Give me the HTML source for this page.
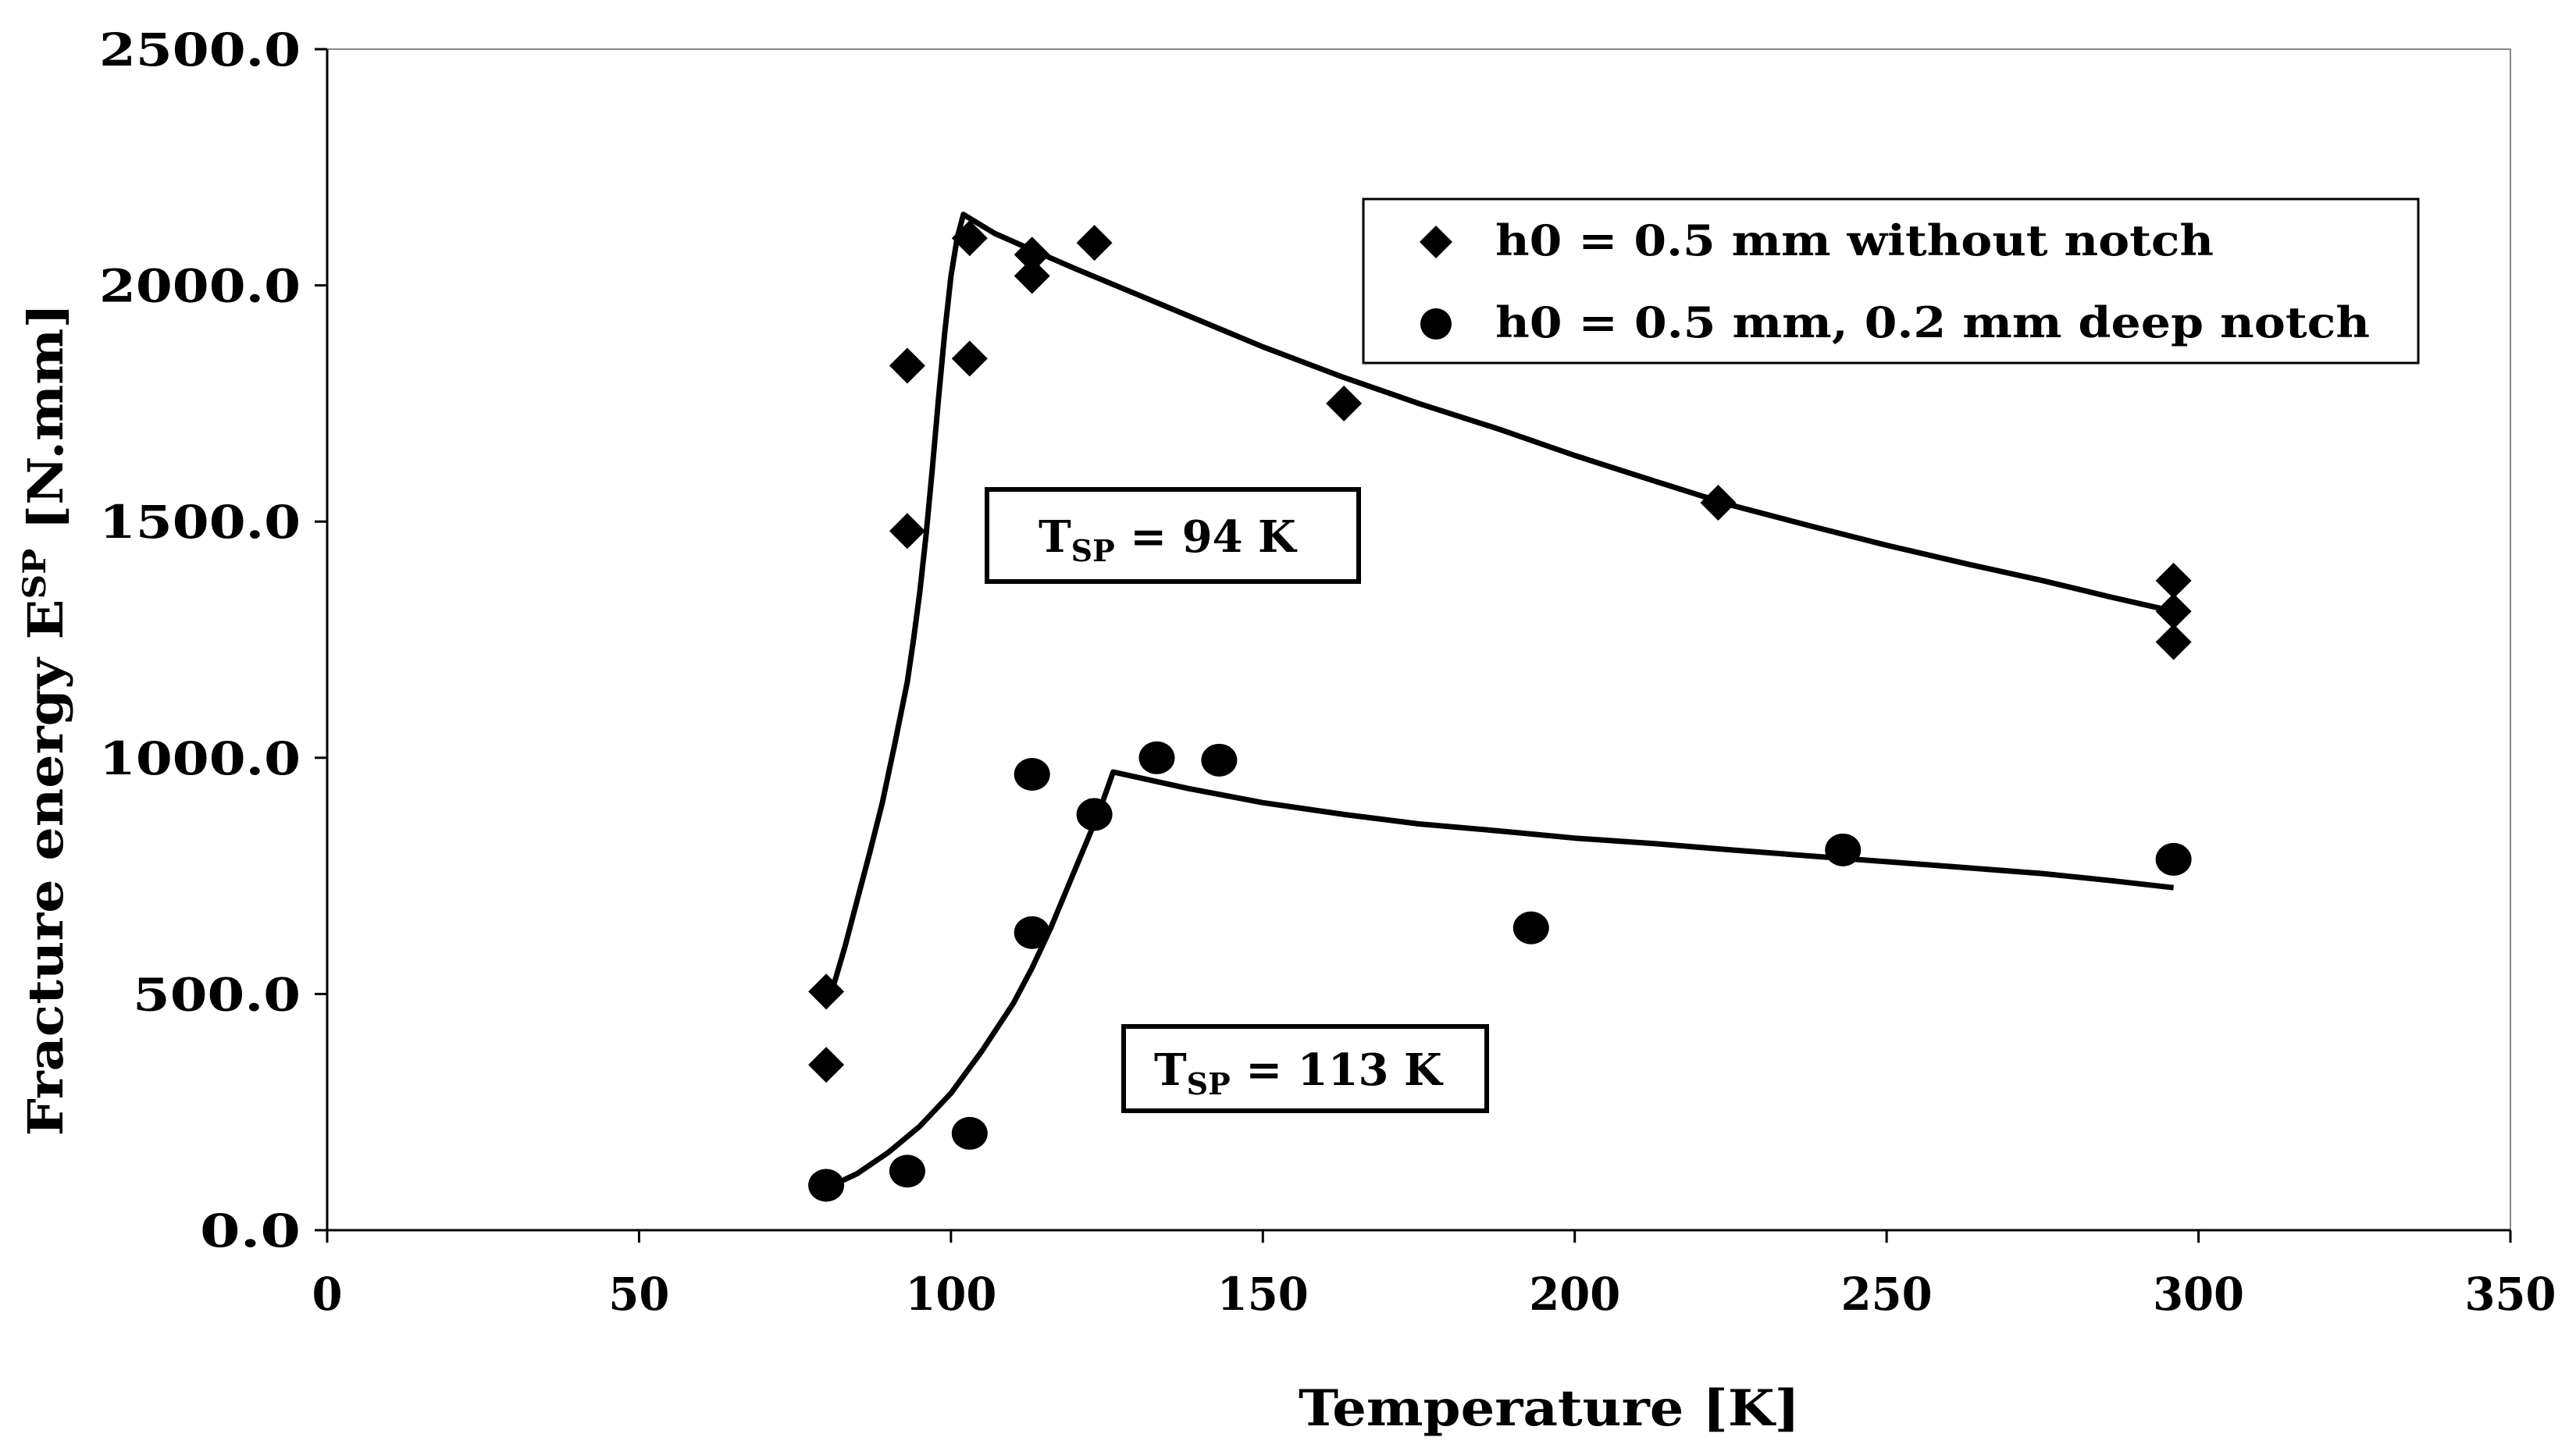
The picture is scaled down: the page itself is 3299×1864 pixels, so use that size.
<!DOCTYPE html>
<html><head><meta charset="utf-8"><style>
html,body{margin:0;padding:0;background:#fff;}
svg{display:block;font-family:"DejaVu Serif","Liberation Serif",serif;font-weight:bold;}
</style></head><body>
<svg id="chart" width="3299" height="1864" viewBox="0 0 3299 1864" xmlns="http://www.w3.org/2000/svg">
<rect x="0" y="0" width="3299" height="1864" fill="#fff"/>
<g id="axes"></g>
<g id="curves"></g>
<g id="marks"></g>
<g>
<rect x="1746" y="255" width="1351" height="210" fill="#fff" stroke="#000" stroke-width="3"/>
<path d="M1839 289 L1860 310 L1839 331 L1818 310 Z" fill="#000"/>
<text x="1915" y="327" font-size="54" textLength="920" lengthAdjust="spacingAndGlyphs">h0 = 0.5 mm without notch</text>
<circle cx="1839" cy="415" r="20" fill="#000"/>
<text x="1915" y="432" font-size="54" textLength="1120" lengthAdjust="spacingAndGlyphs">h0 = 0.5 mm, 0.2 mm deep notch</text>
</g>
<g>
<rect x="1264" y="627" width="476" height="118" fill="#fff" stroke="#000" stroke-width="6"/>
<text x="1330" y="707" font-size="56">T<tspan font-size="38" dy="12">SP</tspan><tspan dy="-12"> = 94 K</tspan></text>
</g>
<g>
<rect x="1439" y="1315" width="465" height="108" fill="#fff" stroke="#000" stroke-width="6"/>
<text x="1478" y="1390" font-size="56">T<tspan font-size="38" dy="12">SP</tspan><tspan dy="-12"> = 113 K</tspan></text>
</g>
<text x="1984" y="1826" font-size="64" text-anchor="middle" textLength="642" lengthAdjust="spacingAndGlyphs">Temperature  [K]</text>
<text transform="translate(80,922) rotate(-90)" font-size="62" text-anchor="middle" textLength="1067" lengthAdjust="spacingAndGlyphs">Fracture energy  E<tspan font-size="40" dy="-22">SP</tspan><tspan dy="22"> [N.mm]</tspan></text>
</svg>
<script>
const xTicks=[0,50,100,150,200,250,300,350];
const yTicks=[0,500,1000,1500,2000,2500];
const yTickLabels=["0.0","500.0","1000.0","1500.0","2000.0","2500.0"];
const diamondT=[80,80,93,93,103,103,113,113,123,163,223,296,296,296];
const diamondE=[505,350,1830,1480,2100,1845,2065,2020,2090,1750,1540,1375,1310,1245];
const circleT=[80,93,103,113,113,123,133,143,193,243,296];
const circleE=[95,125,205,965,630,880,1000,995,640,805,785];
const fit1T=[81,83,85,87,89,91,93,94,95,96,97,98,99,100,101,102,107,113,120,130,140,150,163,175,188,200,213,225,238,250,263,275,286,296];
const fit1E=[510,600,700,800,905,1030,1160,1250,1350,1470,1610,1760,1900,2020,2100,2150,2110,2075,2035,1980,1925,1870,1805,1750,1695,1640,1585,1535,1490,1450,1410,1375,1340,1310];
const fit2T=[81,85,90,95,100,105,110,113,116,119,122,124,126,138,150,163,175,188,200,213,225,238,250,263,275,286,296];
const fit2E=[95,120,165,220,290,380,480,555,640,735,830,895,970,935,905,880,860,845,830,818,805,792,780,767,755,740,725];

const X0=419,X1=3215,Y0=1576,Y1=63;
const xs=v=>X0+(v-0)/(350-0)*(X1-X0);
const ys=v=>Y0-(v-0)/(2500-0)*(Y0-Y1);
const NS="http://www.w3.org/2000/svg";
function mk(tag,attrs,parent){const e=document.createElementNS(NS,tag);for(const k in attrs)e.setAttribute(k,attrs[k]);parent.appendChild(e);return e;}
const axes=document.getElementById('axes');
let e;
e=mk('path',{d:`M${X0} ${Y1} H${X1} V${Y0}`,fill:'none',stroke:'#888','stroke-width':2},axes);


e=mk('line',{x1:X0,y1:Y1,x2:X0,y2:Y0,stroke:'#000','stroke-width':3},axes);


e=mk('line',{x1:X0,y1:Y0,x2:X1,y2:Y0,stroke:'#000','stroke-width':3},axes);


xTicks.forEach(t=>{
  const x=xs(t);
  let l=mk('line',{x1:x,y1:Y0,x2:x,y2:Y0+16,stroke:'#000','stroke-width':3},axes);
  
  
  const s=String(t);
  let tx=mk('text',{x:x,y:1678,'font-size':58,'text-anchor':'middle',textLength:s.length*39,lengthAdjust:'spacingAndGlyphs'},axes);
  tx.textContent=s;
  
  
});
yTicks.forEach((t,i)=>{
  const y=ys(t);
  let l=mk('line',{x1:X0-16,y1:y,x2:X0,y2:y,stroke:'#000','stroke-width':3},axes);
  
  
  const s=yTickLabels[i];
  let tx=mk('text',{x:385,y:y+21,'font-size':58,'text-anchor':'end',textLength:s.length*43,lengthAdjust:'spacingAndGlyphs'},axes);
  tx.textContent=s;
  
  
});
const curves=document.getElementById('curves');
function line(T,E,name){
  const d=T.map((t,i)=>(i?'L':'M')+xs(t).toFixed(1)+' '+ys(E[i]).toFixed(1)).join(' ');
  const p=mk('path',{d:d,fill:'none',stroke:'#000','stroke-width':7,'stroke-linejoin':'round'},curves);
  
  
}
line(fit1T,fit1E,'fit-curve-without-notch');
line(fit2T,fit2E,'fit-curve-deep-notch');
const marks=document.getElementById('marks');
diamondT.forEach((t,i)=>{
  const x=xs(t),y=ys(diamondE[i]),r=23;
  const p=mk('path',{d:`M${x} ${y-r} L${x+r} ${y} L${x} ${y+r} L${x-r} ${y} Z`,fill:'#000'},marks);
  
  
});
circleT.forEach((t,i)=>{
  const c=mk('ellipse',{cx:xs(t),cy:ys(circleE[i]),rx:23,ry:21,fill:'#000'},marks);
  
  
});
</script>
</body></html>
